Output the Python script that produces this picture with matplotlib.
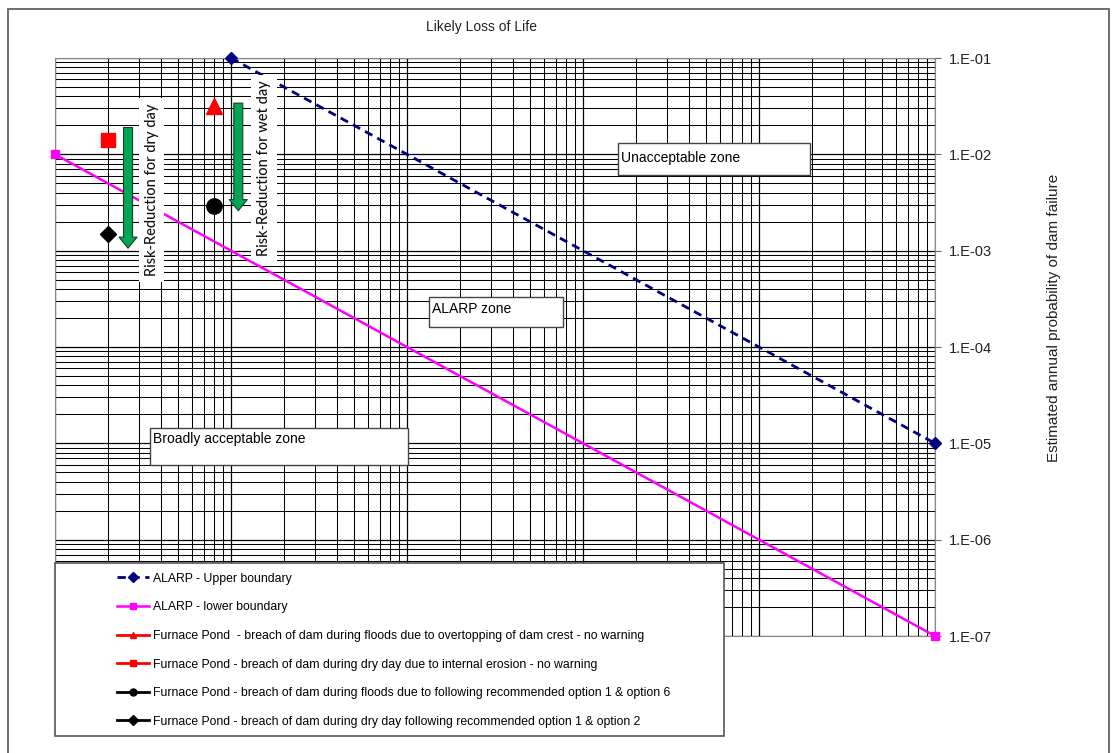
import numpy as np
import matplotlib
matplotlib.use("Agg")
import matplotlib.pyplot as plt
from matplotlib.patches import Rectangle
from matplotlib.ticker import LogLocator, FuncFormatter, NullFormatter

plt.rcParams['font.family'] = ['Liberation Sans', 'DejaVu Sans']

# ALARP boundaries (loss of life vs annual probability)
upper_x = [10, 1e5]
upper_y = [1e-1, 1e-5]
lower_x = [1, 1e5]
lower_y = [1e-2, 1e-7]

# Furnace Pond estimates
flood_x, flood_y = [8], [3.2e-2]
dry_x, dry_y = [2], [1.4e-2]
flood_opt_x, flood_opt_y = [8], [2.9e-3]
dry_opt_x, dry_opt_y = [2], [1.5e-3]

labels = [
    'ALARP - Upper boundary',
    'ALARP - lower boundary',
    'Furnace Pond  - breach of dam during floods due to overtopping of dam crest - no warning',
    'Furnace Pond - breach of dam during dry day due to internal erosion - no warning',
    'Furnace Pond - breach of dam during floods due to following recommended option 1 & option 6',
    'Furnace Pond - breach of dam during dry day following recommended option 1 & option 2',
]

fig = plt.figure(figsize=(11.13, 7.53), dpi=100)
ax = fig.add_axes([55 / 1113, 1 - 636 / 753, 880 / 1113, 578 / 753])

ax.plot(upper_x, upper_y, color='#000080', ls='--', dashes=(3, 2), lw=2, marker='D', ms=6, label=labels[0], zorder=4, clip_on=False)
ax.plot(lower_x, lower_y, color='#FF00FF', lw=1.8, marker='s', ms=6, label=labels[1], zorder=4, clip_on=False)
ax.plot(flood_x, flood_y, color='red', lw=2, marker='^', ms=12, label=labels[2], zorder=4)
ax.plot(dry_x, dry_y, color='red', lw=2, marker='s', ms=10, label=labels[3], zorder=4)
ax.plot(flood_opt_x, flood_opt_y, color='black', lw=2, marker='o', ms=11, label=labels[4], zorder=4)
ax.plot(dry_opt_x, dry_opt_y, color='black', lw=2, marker='D', ms=8, label=labels[5], zorder=4)

ax.set_xscale('log')
ax.set_yscale('log')
ax.set_xlim(1, 1e5)
ax.set_ylim(1e-7, 1e-1)

ax.xaxis.set_major_locator(LogLocator(base=10, numticks=10))
ax.xaxis.set_minor_locator(LogLocator(base=10, subs=np.arange(2, 10), numticks=20))
ax.yaxis.set_major_locator(LogLocator(base=10, numticks=10))
ax.yaxis.set_minor_locator(LogLocator(base=10, subs=np.arange(2, 10), numticks=20))
ax.yaxis.set_major_formatter(FuncFormatter(lambda v, p: '1.E-%02d' % round(-np.log10(v))))
ax.yaxis.set_minor_formatter(NullFormatter())

ax.grid(which='major', color='black', lw=0.9)
ax.grid(which='minor', color='black', lw=0.75)
ax.set_axisbelow(True)

ax.tick_params(axis='x', which='both', length=0, labelbottom=False, labeltop=False)
ax.yaxis.tick_right()
ax.tick_params(axis='y', which='major', length=4, color='#666666', pad=6, labelsize=10.5, labelcolor='#222222')
ax.tick_params(axis='y', which='minor', length=0)
for s in ax.spines.values():
    s.set_color('#888888')

ax.xaxis.set_label_position('top')
ax.set_xlabel('Likely Loss of Life', fontsize=10, color='#222222')
ax.xaxis.label.set_va('center')
ax.xaxis.set_label_coords(0.485, 1.0536)

ax.yaxis.set_label_position('right')
ax.set_ylabel('Estimated annual probability of dam failure', fontsize=11, color='#222222')
ax.yaxis.set_label_coords(1.127, 0.55)

# zone labels in outlined boxes
def zone_box(x0, y0, x1, y1, text, ty):
    ax.add_patch(Rectangle((x0, y0), x1 - x0, y1 - y0, transform=ax.transAxes,
                           facecolor='white', edgecolor='#444444', lw=1, zorder=5))
    ax.text(x0 + 0.003, ty, text, transform=ax.transAxes, fontsize=10,
            va='center', ha='left', color='black', zorder=6)

zone_box(0.640, 0.7976, 0.858, 0.853, 'Unacceptable zone', 0.827)
zone_box(0.425, 0.5346, 0.577, 0.5865, 'ALARP zone', 0.566)
zone_box(0.108, 0.296, 0.401, 0.360, 'Broadly acceptable zone', 0.341)

# risk reduction arrows and captions
arrow_style = 'simple,head_width=13,head_length=8,tail_width=6.5'
ax.annotate('', xy=(2.6, 1.06e-3), xytext=(2.6, 1.9e-2),
            arrowprops=dict(arrowstyle=arrow_style, mutation_scale=1, shrinkA=0, shrinkB=0,
                            fc='#00A651', ec='#1d3d2a', lw=0.8), zorder=7)
ax.annotate('', xy=(11, 2.6e-3), xytext=(11, 3.4e-2),
            arrowprops=dict(arrowstyle=arrow_style, mutation_scale=1, shrinkA=0, shrinkB=0,
                            fc='#00A651', ec='#1d3d2a', lw=0.8), zorder=7)

for tx, ty, txt in [(0.1097, 0.7716, 'Risk-Reduction for dry day'),
                    (0.2375, 0.8097, 'Risk-Reduction for wet day')]:
    ax.text(tx, ty, txt, transform=ax.transAxes, rotation=90, ha='center', va='center',
            fontsize=10.5, family=['Lato', 'DejaVu Sans'], weight='medium', color='#111111', zorder=6,
            bbox=dict(facecolor='white', edgecolor='none', pad=4))

# legend panel
fig.add_artist(Rectangle((55 / 1113, 1 - 736 / 753), 669 / 1113, 173 / 753,
                         transform=fig.transFigure, facecolor='white',
                         edgecolor='#555555', lw=1.2, zorder=3))
leg = fig.legend(loc='upper left', bbox_to_anchor=(0.105, 0.2395), frameon=False,
                 fontsize=8.8, borderpad=0, borderaxespad=0, handlelength=2.6,
                 handletextpad=0.35, labelspacing=1.36)
leg.set_zorder(6)
for h in leg.legend_handles:
    h.set_markersize(5)

# outer frame
fig.add_artist(Rectangle((8 / 1113, -0.02), 1101 / 1113, 1.0 + 0.02 - 9 / 753,
                         transform=fig.transFigure, facecolor='none',
                         edgecolor='#555555', lw=1.2, zorder=10))

fig.savefig('out.png', dpi=100)
